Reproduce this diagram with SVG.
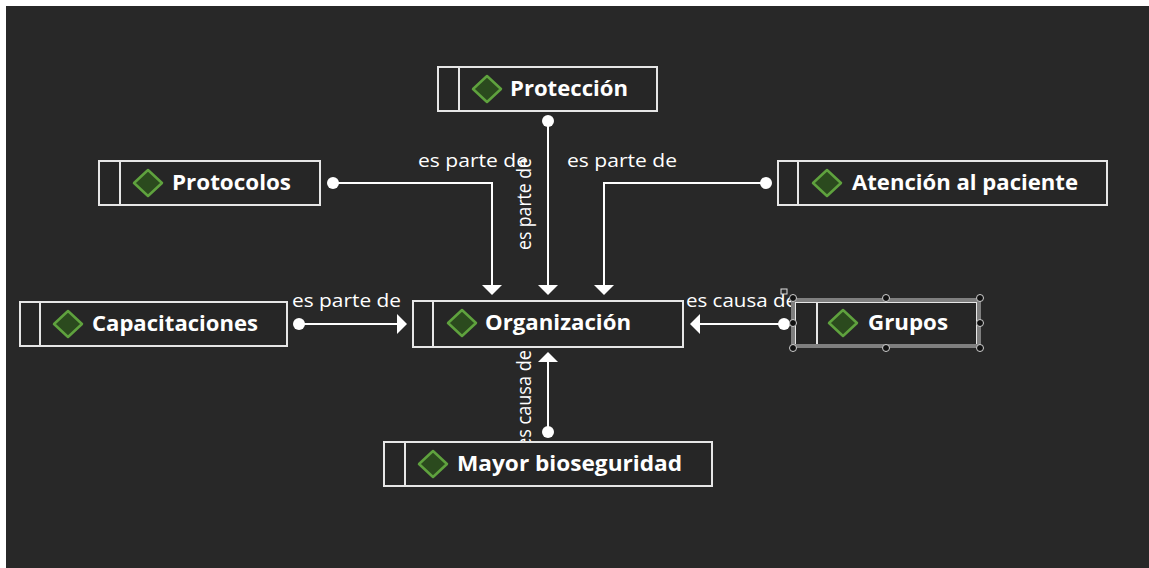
<svg xmlns="http://www.w3.org/2000/svg" width="1149" height="568" viewBox="0 0 1149 568">
  <defs>
    <style>
      .node-box { fill: #262626; stroke: #e6e6e6; stroke-width: 2; }
      .divider { stroke: #e6e6e6; stroke-width: 2; }
      .icon { fill: #2b4a1e; stroke: #5fa23e; stroke-width: 2.5; stroke-linejoin: round; }
      .node-label { font-family: "Open Sans", "Liberation Sans", sans-serif; font-weight: bold; font-size: 21px; fill: #ffffff; }
      .edge { fill: none; stroke: #ffffff; stroke-width: 2; }
      .edge-start { fill: #ffffff; }
      .edge-head { fill: #ffffff; }
      .edge-label { font-family: "Open Sans", "Liberation Sans", sans-serif; font-size: 19px; fill: #ffffff; }
      .edge-label-v { font-family: "Open Sans", "Liberation Sans", sans-serif; font-size: 20px; fill: #ffffff; }
      .sel-frame { fill: none; stroke: #7f7f7f; stroke-width: 4; }
      .handle { fill: #111111; stroke: #d0d0d0; stroke-width: 1; }
    </style>
  </defs>

  <!-- canvas -->
  <rect x="0" y="0" width="1149" height="568" fill="#ffffff"/>
  <rect x="6" y="6" width="1143" height="562" fill="#282828"/>

  <!-- connectors -->
  <g id="connectors">
    <!-- Protocolos -> Organización -->
    <g id="edge-protocolos">
      <path class="edge" d="M333,183 H492 V286"/>
      <circle class="edge-start" cx="333" cy="183" r="6"/>
      <polygon class="edge-head" points="482,285 502,285 492,295"/>
      <text class="edge-label" x="418" y="167" textLength="110" lengthAdjust="spacingAndGlyphs">es parte de</text>
    </g>
    <!-- Protección -> Organización -->
    <g id="edge-proteccion">
      <path class="edge" d="M548,121 V286"/>
      <circle class="edge-start" cx="548" cy="121" r="6"/>
      <polygon class="edge-head" points="538,285 558,285 548,295"/>
      <text class="edge-label-v" transform="translate(531,204) rotate(-90)" text-anchor="middle" textLength="92" lengthAdjust="spacingAndGlyphs">es parte de</text>
    </g>
    <!-- Atención al paciente -> Organización -->
    <g id="edge-atencion">
      <path class="edge" d="M766,183 H604 V286"/>
      <circle class="edge-start" cx="766" cy="183" r="6"/>
      <polygon class="edge-head" points="594,285 614,285 604,295"/>
      <text class="edge-label" x="567" y="167" textLength="110" lengthAdjust="spacingAndGlyphs">es parte de</text>
    </g>
    <!-- Capacitaciones -> Organización -->
    <g id="edge-capacitaciones">
      <path class="edge" d="M299,324 H398"/>
      <circle class="edge-start" cx="299" cy="324" r="6"/>
      <polygon class="edge-head" points="397,314 397,334 407,324"/>
      <text class="edge-label" x="292" y="307" textLength="109" lengthAdjust="spacingAndGlyphs">es parte de</text>
    </g>
    <!-- Grupos -> Organización -->
    <g id="edge-grupos">
      <path class="edge" d="M784,324 H699"/>
      <circle class="edge-start" cx="784" cy="324" r="6"/>
      <polygon class="edge-head" points="700,314 700,334 690,324"/>
      <text class="edge-label" x="686" y="307" textLength="111" lengthAdjust="spacingAndGlyphs">es causa de</text>
    </g>
    <!-- Mayor bioseguridad -> Organización -->
    <g id="edge-mayor">
      <path class="edge" d="M548,432 V361"/>
      <circle class="edge-start" cx="548" cy="432" r="6"/>
      <polygon class="edge-head" points="538,362 558,362 548,352"/>
      <text class="edge-label-v" transform="translate(531,350) rotate(-90)" text-anchor="end" textLength="98" lengthAdjust="spacingAndGlyphs">es causa de</text>
    </g>
  </g>

  <!-- nodes -->
  <g id="node-proteccion">
    <rect class="node-box" x="438" y="67" width="219" height="44"/>
    <line class="divider" x1="459" y1="67" x2="459" y2="111"/>
    <polygon class="icon" points="487,76 501,89 487,102 473,89"/>
    <text class="node-label" x="510" y="96" textLength="118" lengthAdjust="spacingAndGlyphs">Protección</text>
  </g>

  <g id="node-protocolos">
    <rect class="node-box" x="99" y="161" width="221" height="44"/>
    <line class="divider" x1="120" y1="161" x2="120" y2="205"/>
    <polygon class="icon" points="148,170 162,183 148,196 134,183"/>
    <text class="node-label" x="172" y="190" textLength="119" lengthAdjust="spacingAndGlyphs">Protocolos</text>
  </g>

  <g id="node-atencion">
    <rect class="node-box" x="778" y="161" width="329" height="44"/>
    <line class="divider" x1="798" y1="161" x2="798" y2="205"/>
    <polygon class="icon" points="827,170 841,183 827,196 813,183"/>
    <text class="node-label" x="852" y="190" textLength="226" lengthAdjust="spacingAndGlyphs">Atención al paciente</text>
  </g>

  <g id="node-capacitaciones">
    <rect class="node-box" x="20" y="302" width="267" height="44"/>
    <line class="divider" x1="40" y1="302" x2="40" y2="346"/>
    <polygon class="icon" points="68,311 82,324 68,337 54,324"/>
    <text class="node-label" x="92" y="331" textLength="166" lengthAdjust="spacingAndGlyphs">Capacitaciones</text>
  </g>

  <g id="node-organizacion">
    <rect class="node-box" x="413" y="301" width="270" height="46"/>
    <line class="divider" x1="433" y1="301" x2="433" y2="347"/>
    <polygon class="icon" points="462,310 476,323 462,336 448,323"/>
    <text class="node-label" x="485" y="330" textLength="146" lengthAdjust="spacingAndGlyphs">Organización</text>
  </g>

  <g id="node-grupos">
    <rect class="node-box" x="795" y="302" width="182" height="43"/>
    <line class="divider" x1="817" y1="302" x2="817" y2="345"/>
    <polygon class="icon" points="843,310 857,323 843,336 829,323"/>
    <text class="node-label" x="868" y="330" textLength="80" lengthAdjust="spacingAndGlyphs">Grupos</text>
    <!-- selection frame and resize handles -->
    <rect class="sel-frame" x="793" y="300" width="186" height="46"/>
    <rect x="781" y="289" width="6" height="5" fill="#282828" stroke="#e0e0e0" stroke-width="1"/>
    <circle class="handle" cx="793" cy="298" r="3.5"/>
    <circle class="handle" cx="886" cy="298" r="3.5"/>
    <circle class="handle" cx="980" cy="298" r="3.5"/>
    <circle class="handle" cx="793" cy="323" r="3.5"/>
    <circle class="handle" cx="980" cy="323" r="3.5"/>
    <circle class="handle" cx="793" cy="348" r="3.5"/>
    <circle class="handle" cx="886" cy="348" r="3.5"/>
    <circle class="handle" cx="980" cy="348" r="3.5"/>
  </g>

  <g id="node-mayor-bioseguridad">
    <rect class="node-box" x="384" y="442" width="328" height="44"/>
    <line class="divider" x1="405" y1="442" x2="405" y2="486"/>
    <polygon class="icon" points="433,451 447,464 433,477 419,464"/>
    <text class="node-label" x="457" y="471" textLength="225" lengthAdjust="spacingAndGlyphs">Mayor bioseguridad</text>
  </g>
</svg>
